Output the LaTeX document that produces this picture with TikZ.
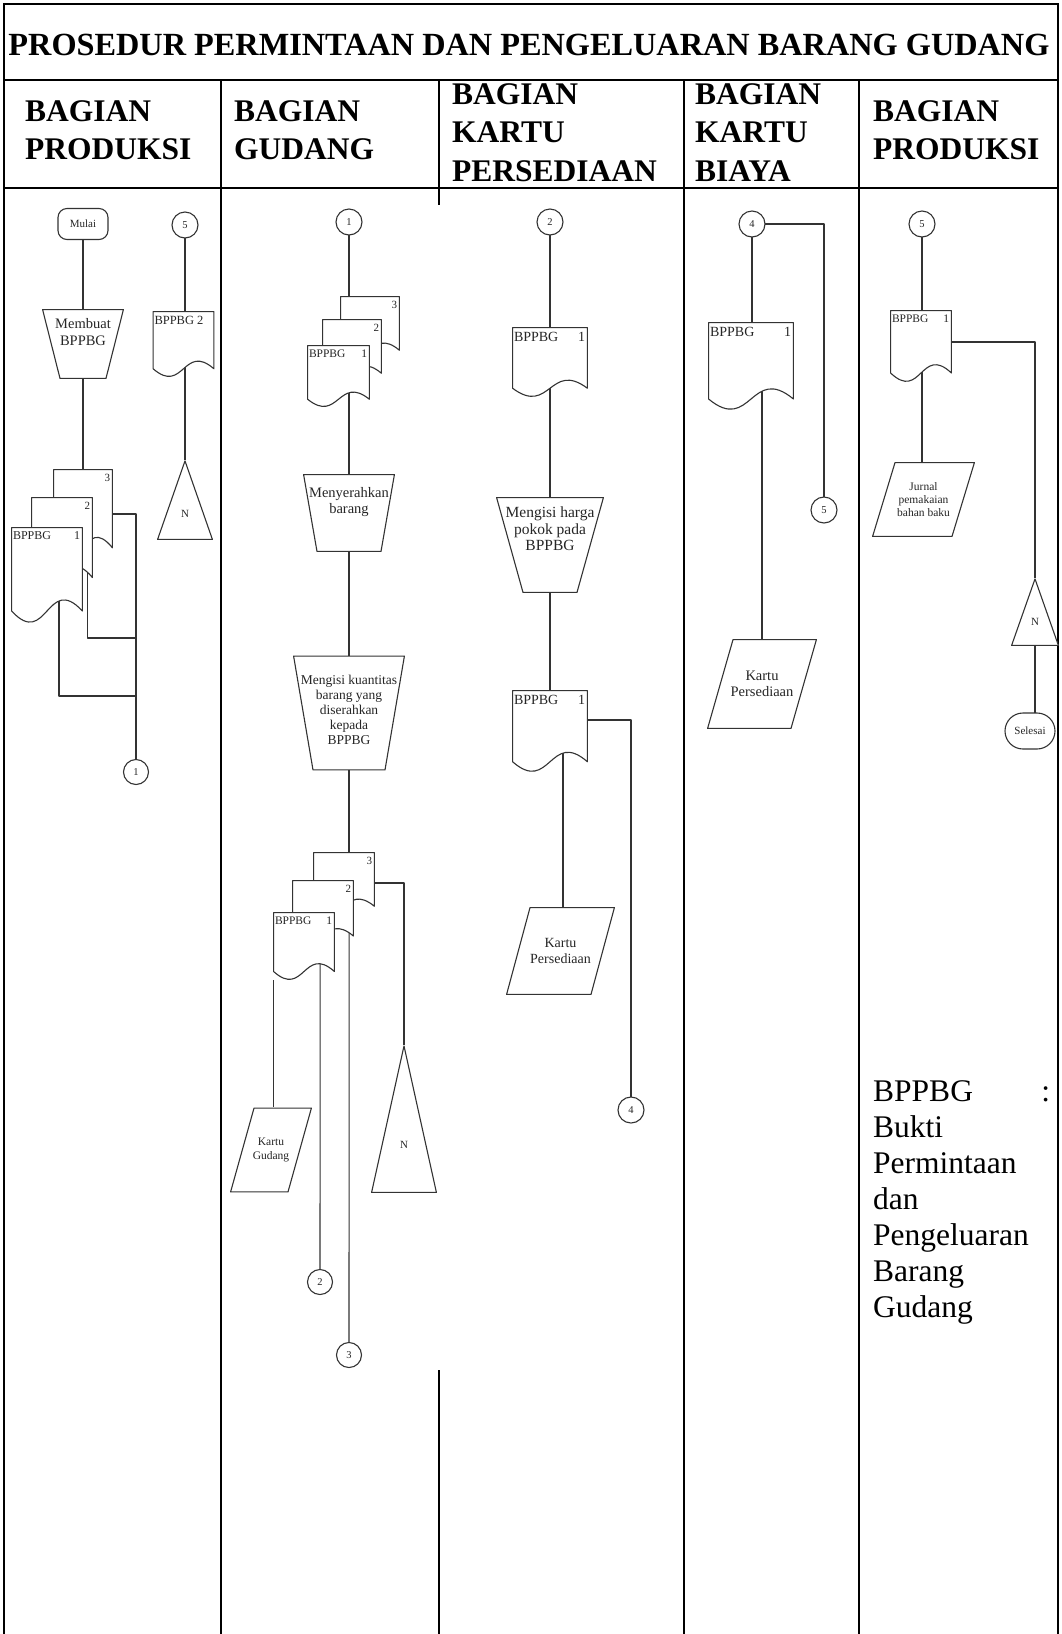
\documentclass[tikz,border=0pt]{standalone}
\usepackage{fontspec}
\setmainfont{Liberation Serif}
\usetikzlibrary{calc,shapes.misc}
\pgfdeclarelayer{bg}
\pgfsetlayers{bg,main}
\newcommand{\myfs}[2]{\fontsize{#1}{#2}\selectfont}

\tikzset{
  tbl/.style={line width=2.4pt, draw=black},
  flow/.style={line width=1.1pt, draw=black!80, line join=round},
  ink/.style={text=black!85},
  shp/.style={rectangle, inner sep=0pt, ink},
  % flowchart document symbol with wavy bottom edge
  docbox/.style 2 args={shp, minimum width=#1, minimum height=#2,
    path picture={\path[fill=white, flow]
      ([shift={(0.6pt,-0.6pt)}]path picture bounding box.north west)
      -- ([shift={(-0.6pt,-0.6pt)}]path picture bounding box.north east)
      -- ([shift={(-0.6pt,{0.125*#2pt})}]path picture bounding box.south east)
      .. controls ([yshift={0.525*#2pt}]path picture bounding box.south)
         and ([yshift={-0.275*#2pt}]path picture bounding box.south)
      .. ([shift={(0.6pt,{0.125*#2pt})}]path picture bounding box.south west)
      -- cycle;}},
  % manual operation (trapezium, wide side on top)
  manop/.style n args={3}{shp, minimum width=#1, minimum height=#2,
    path picture={\path[fill=white, flow]
      ([shift={(0.6pt,-0.6pt)}]path picture bounding box.north west)
      -- ([shift={(-0.6pt,-0.6pt)}]path picture bounding box.north east)
      -- ([shift={(-#3pt,0.6pt)}]path picture bounding box.south east)
      -- ([shift={(#3pt,0.6pt)}]path picture bounding box.south west)
      -- cycle;}},
  % input/output parallelogram
  iobox/.style n args={3}{shp, minimum width=#1, minimum height=#2,
    path picture={\path[fill=white, flow]
      ([shift={(#3pt,-0.6pt)}]path picture bounding box.north west)
      -- ([shift={(-0.6pt,-0.6pt)}]path picture bounding box.north east)
      -- ([shift={(-#3pt,0.6pt)}]path picture bounding box.south east)
      -- ([shift={(0.6pt,0.6pt)}]path picture bounding box.south west)
      -- cycle;}},
  % offline storage triangle
  stor/.style 2 args={shp, minimum width=#1, minimum height=#2,
    path picture={\path[fill=white, flow]
      ([yshift=-0.9pt]path picture bounding box.north)
      -- ([shift={(-0.6pt,0.6pt)}]path picture bounding box.south east)
      -- ([shift={(0.6pt,0.6pt)}]path picture bounding box.south west)
      -- cycle;}},
  connc/.style={circle, flow, fill=white, minimum size=26pt, inner sep=0pt, ink,
    font=\myfs{10.5}{12}},
  termbox/.style 2 args={rectangle, rounded corners=9pt, flow, fill=white,
    minimum width=#1, minimum height=#2, inner sep=0pt, ink, font=\myfs{11}{12}},
  tagl/.style 2 args={label={[ink, inner sep=0pt, font=\myfs{#1}{#1},
    anchor=north west, xshift=2pt, yshift=-5pt]north west:#2}},
  tagr/.style 2 args={label={[ink, inner sep=0pt, font=\myfs{#1}{#1},
    anchor=north east, xshift=-3pt, yshift=-5pt]north east:#2}},
  intext/.style n args={4}{label={[ink, inner sep=0pt, align=center,
    font=\myfs{#1}{#2}, yshift=#3pt]center:{#4}}},
  hdr/.style={inner sep=0pt, align=left, font=\bfseries\myfs{31.5}{38.5}},
}

\begin{document}
\begin{tikzpicture}[x=1pt, y=-1pt]
\useasboundingbox (0,0) rectangle (1061,1634);

% ---------- table frame ----------
\draw[tbl] (4,1634) -- (4,4) -- (1058,4) -- (1058,1634);
\draw[tbl] (4,80) -- (1058,80);
\draw[tbl] (4,188) -- (1058,188);
\draw[tbl] (221,80) -- (221,1634);
\draw[tbl] (439,80) -- (439,205);
\draw[tbl] (439,1370) -- (439,1634);
\draw[tbl] (684,80) -- (684,1634);
\draw[tbl] (859,80) -- (859,1634);

\node[inner sep=0pt, anchor=base, font=\bfseries\myfs{32.3}{36}] (title) at (529,55)
  {PROSEDUR PERMINTAAN DAN PENGELUARAN BARANG GUDANG};
\node[hdr, anchor=north west] (h1) at (25,100) {BAGIAN\\PRODUKSI};
\node[hdr, anchor=north west] (h2) at (234,100) {BAGIAN\\GUDANG};
\node[hdr, anchor=north west] (h3) at (452,83) {BAGIAN\\KARTU\\PERSEDIAAN};
\node[hdr, anchor=north west] (h4) at (695,83) {BAGIAN\\KARTU\\BIAYA};
\node[hdr, anchor=north west] (h5) at (873,100) {BAGIAN\\PRODUKSI};

% ---------- Bagian Produksi ----------
\node[termbox={50}{31}] (mulai) at (83,224) {Mulai};
\node[manop={82}{70}{18}, intext={14.5}{17}{12}{Membuat\\BPPBG}] (trA) at (83,344) {};
\node[connc] (c5a) at (185,225) {5};
\node[docbox={62}{66}, tagl={12.5}{BPPBG 2}] (d1B2) at (183.5,344) {};
\node[stor={56}{80}, intext={11}{12}{-14}{N}] (n1) at (185,500) {};
\node[docbox={60}{90}, tagr={11}{3}] (d13) at (83,514) {};
\node[docbox={62}{92}, tagr={11}{2}] (d12) at (62,543) {};
\node[docbox={72}{96}, tagl={12}{BPPBG}, tagr={12}{1}] (d11) at (47,575) {};
\coordinate (j2) at (136,638);
\coordinate (j3) at (136,696);
\node[connc, minimum size=25pt] (c1a) at (136,772) {1};

% ---------- Bagian Gudang ----------
\node[connc] (c1b) at (349,222) {1};
\node[docbox={60}{62}, tagr={11}{3}] (t23) at (370,327) {};
\node[docbox={60}{62}, tagr={11}{2}] (t22) at (352,350) {};
\node[docbox={63}{62}, tagl={11.5}{BPPBG}, tagr={11.5}{1}] (t21) at (338.5,376) {};
\node[manop={92}{78}{14}, intext={14.5}{16}{11}{Menyerahkan\\barang}] (trB) at (349,513) {};
\node[manop={112}{115}{20}, intext={13.5}{15}{3}{Mengisi kuantitas\\barang yang\\diserahkan\\kepada\\BPPBG}] (trC) at (349,713) {};
\node[docbox={62}{62}, tagr={11}{3}] (b23) at (344,883) {};
\node[docbox={62}{64}, tagr={11}{2}] (b22) at (323,912) {};
\node[docbox={62}{68}, tagl={11.5}{BPPBG}, tagr={11.5}{1}] (b21) at (304,946) {};
\node[stor={66}{148}, intext={11}{12}{-26}{N}] (n2) at (404,1119) {};
\node[iobox={82}{85}{24}, intext={11.5}{13.5}{0}{Kartu\\Gudang}] (kg) at (271,1150) {};
\node[connc, minimum size=25pt] (c2a) at (320,1282) {2};
\node[connc, minimum size=25pt] (c3a) at (349,1355) {3};

% ---------- Bagian Kartu Persediaan ----------
\node[connc] (c2b) at (550,222) {2};
\node[docbox={76}{70}, tagl={14}{BPPBG}, tagr={14}{1}] (d31) at (550,362) {};
\node[manop={108}{96}{27}, intext={15.5}{16.5}{16}{Mengisi harga\\pokok pada\\BPPBG}] (trD) at (550,545) {};
\node[docbox={76}{82}, tagl={14}{BPPBG}, tagr={14}{1}] (d32) at (550,731) {};
\node[iobox={109}{88}{24}, intext={14}{16}{0}{Kartu\\Persediaan}] (kp1) at (560.5,951) {};
\node[connc] (c4a) at (631,1110) {4};

% ---------- Bagian Kartu Biaya ----------
\node[connc] (c4b) at (752,224) {4};
\node[docbox={86}{88}, tagl={14}{BPPBG}, tagr={14}{1}] (d41) at (751,366) {};
\node[connc] (c5b) at (824,510) {5};
\node[iobox={110}{90}{26}, intext={14.5}{16}{0}{Kartu\\Persediaan}] (kp2) at (762,684) {};

% ---------- Bagian Produksi (akhir) ----------
\node[connc] (c5c) at (922,224) {5};
\node[docbox={62}{72}, tagl={11.5}{BPPBG}, tagr={11.5}{1}] (d51) at (921,346) {};
\node[iobox={103}{75}{23}, intext={11.5}{13}{0}{Jurnal\\pemakaian\\bahan baku}] (jn) at (923.5,499.5) {};
\node[stor={48}{68}, intext={11}{12}{-10}{N}] (n3) at (1035,612) {};
\node[rounded rectangle, flow, fill=white, minimum width=50pt, minimum height=36pt,
  inner sep=0pt, ink, font=\myfs{11}{12}] (sel) at (1030,731) {Selesai};

% ---------- legend ----------
\node[inner sep=0pt, anchor=north west, text width=177pt, align=left,
  font=\myfs{31.5}{36}] (legend) at (873,1080)
  {BPPBG\hfill:\\Bukti\\Permintaan\\dan\\Pengeluaran\\Barang\\Gudang};

% ---------- flow lines (behind the symbols) ----------
\begin{pgfonlayer}{bg}
\fill[white] (0,0) rectangle (1061,1634);
% produksi
\draw[flow] (mulai.center) -- (d13.center);
\draw[flow] (c5a.center) -- (n1.north);
\draw[flow] (d13.east) -| (c1a.center);
\draw[flow] ([xshift=-6pt]d12.east) |- (j2);
\draw[flow] ([xshift=12pt]d11.center) |- (j3);
% gudang
\draw[flow] (c1b.center) -- (c1b.center |- b23.center);
\draw[flow] (b23.east) -| (n2.north);
\draw[flow] ([xshift=0.6pt]b21.south west) -- ([xshift=0.6pt]b21.south west |- kg.north);
\draw[flow] ([xshift=-15pt]b21.east) -- (c2a.center);
\draw[flow] ([xshift=-5pt]b22.east) -- (c3a.center);
% kartu persediaan
\draw[flow] (c2b.center) -- (d32.center);
\draw[flow] ([yshift=11pt]d32.east) -| (c4a.center);
\draw[flow] ([xshift=13pt]d32.center) -- ([xshift=13pt]d32.center |- kp1.north);
% kartu biaya
\draw[flow] (c4b.center) -- (c4b.center |- d41.center);
\draw[flow] (c4b.center) -| (c5b.center);
\draw[flow] ([xshift=11pt]d41.center) -- ([xshift=11pt]d41.center |- kp2.north);
% produksi (akhir)
\draw[flow] (c5c.center) -- (c5c.center |- jn.north);
\draw[flow] ([yshift=4pt]d51.east) -| (n3.north);
\draw[flow] (n3.south) -- (n3.south |- sel.center);
\end{pgfonlayer}
\end{tikzpicture}
\end{document}
